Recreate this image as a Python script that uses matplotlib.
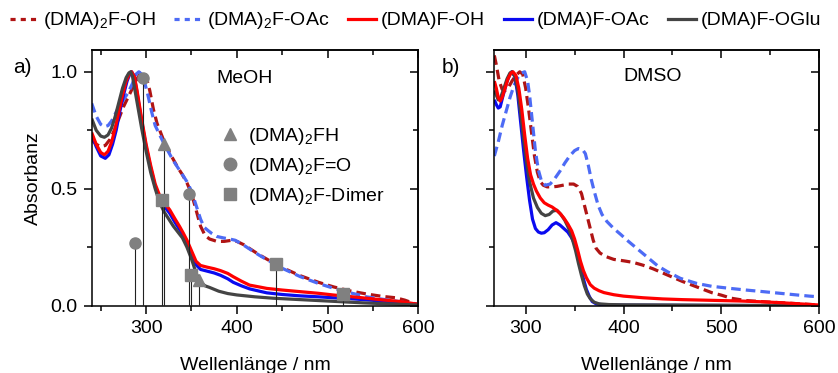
import matplotlib
matplotlib.use("Agg")
import matplotlib.pyplot as plt
from matplotlib.lines import Line2D
from matplotlib.ticker import MultipleLocator

plt.rcParams['font.family'] = ['Liberation Sans', 'DejaVu Sans']
plt.rcParams['font.size'] = 14
plt.rcParams['mathtext.fontset'] = 'custom'
plt.rcParams['mathtext.rm'] = 'Liberation Sans'
plt.rcParams['mathtext.it'] = 'Liberation Sans:italic'

# ---------------- data ----------------
labels = ['(DMA)$_\\mathregular{2}$F-OH', '(DMA)$_\\mathregular{2}$F-OAc',
          '(DMA)F-OH', '(DMA)F-OAc', '(DMA)F-OGlu']
colors = ['#B01414', '#4D6BF5', '#FF0000', '#0A0AF0', '#444444']
styles = ['--', '--', '-', '-', '-']

# MeOH panel
meoh_d2oh_x = [240, 245, 250, 255, 260, 265, 270, 275, 280, 285, 290, 294, 297, 300, 304, 308, 312, 316, 320,
               325, 330, 335, 340, 345, 350, 355, 360, 365, 370, 378, 386, 395, 400, 408, 415, 425, 434, 450,
               470, 490, 507, 525, 543, 560, 575, 585, 595, 600]
meoh_d2oh_y = [0.71, 0.69, 0.68, 0.685, 0.71, 0.75, 0.80, 0.85, 0.89, 0.93, 0.97, 0.995, 1.0, 0.98, 0.92, 0.84,
               0.78, 0.74, 0.70, 0.66, 0.625, 0.59, 0.56, 0.525, 0.48, 0.41, 0.34, 0.30, 0.285, 0.275, 0.275,
               0.28, 0.275, 0.26, 0.242, 0.217, 0.197, 0.163, 0.128, 0.10, 0.08, 0.063, 0.05, 0.04, 0.034,
               0.024, 0.01, 0.005]

meoh_d2oac_x = [240, 245, 250, 254, 258, 262, 266, 270, 275, 280, 285, 289, 292, 295, 298, 302, 306, 310, 315,
                320, 325, 330, 335, 340, 345, 350, 355, 360, 364, 368, 372, 378, 385, 392, 398, 405, 415, 425,
                434, 450, 470, 490, 507, 525, 543, 560, 580, 590, 600]
meoh_d2oac_y = [0.865, 0.81, 0.775, 0.765, 0.77, 0.79, 0.82, 0.85, 0.88, 0.91, 0.95, 0.99, 1.0, 0.99, 0.96,
                0.90, 0.83, 0.77, 0.73, 0.69, 0.655, 0.62, 0.59, 0.56, 0.53, 0.49, 0.43, 0.37, 0.335, 0.322,
                0.31, 0.296, 0.29, 0.285, 0.28, 0.265, 0.24, 0.215, 0.195, 0.16, 0.124, 0.095, 0.074, 0.055,
                0.038, 0.028, 0.017, 0.01, 0.003]

meoh_doh_x = [240, 245, 250, 254, 258, 262, 266, 270, 274, 278, 282, 284, 287, 290, 295, 300, 305, 310, 315, 320,
              326, 332, 337, 341, 345, 350, 355, 360, 367, 375, 382, 390, 396, 405, 414, 425, 433, 450, 470,
              490, 506, 525, 543, 560, 580, 600]
meoh_doh_y = [0.74, 0.69, 0.655, 0.645, 0.66, 0.70, 0.76, 0.83, 0.90, 0.96, 0.995, 1.0, 0.98, 0.92, 0.80, 0.69,
              0.60, 0.52, 0.47, 0.44, 0.41, 0.37, 0.338, 0.31, 0.28, 0.235, 0.19, 0.172, 0.165, 0.158, 0.15,
              0.138, 0.124, 0.105, 0.088, 0.08, 0.074, 0.067, 0.06, 0.053, 0.046, 0.039, 0.032, 0.025, 0.018,
              0.006]

meoh_doac_x = [240, 245, 250, 255, 259, 263, 267, 271, 275, 279, 282, 284, 287, 290, 295, 300, 305, 310, 315,
               320, 326, 332, 337, 341, 345, 350, 355, 360, 367, 375, 382, 390, 396, 405, 414, 425, 433, 450,
               470, 490, 506, 525, 543, 560, 580, 600]
meoh_doac_y = [0.73, 0.68, 0.64, 0.63, 0.645, 0.69, 0.75, 0.83, 0.90, 0.96, 0.99, 1.0, 0.98, 0.91, 0.79, 0.68,
               0.59, 0.51, 0.455, 0.425, 0.395, 0.355, 0.325, 0.30, 0.27, 0.22, 0.175, 0.155, 0.148, 0.14,
               0.13, 0.115, 0.10, 0.085, 0.072, 0.062, 0.055, 0.048, 0.042, 0.038, 0.034, 0.03, 0.025, 0.02,
               0.012, 0.005]

meoh_doglu_x = [240, 245, 250, 254, 258, 262, 266, 270, 274, 278, 281, 283, 285, 290, 295, 300, 305, 310, 315,
                320, 325, 330, 335, 340, 345, 350, 355, 360, 365, 370, 375, 380, 390, 400, 420, 440, 460, 480,
                500, 520, 540, 560, 580, 600]
meoh_doglu_y = [0.80, 0.75, 0.725, 0.72, 0.73, 0.76, 0.81, 0.87, 0.93, 0.975, 0.995, 1.0, 0.98, 0.87, 0.76,
                0.66, 0.57, 0.50, 0.44, 0.40, 0.37, 0.34, 0.315, 0.29, 0.25, 0.20, 0.14, 0.10, 0.085, 0.078,
                0.07, 0.062, 0.052, 0.046, 0.038, 0.032, 0.028, 0.024, 0.02, 0.016, 0.012, 0.009, 0.006, 0.003]

# DMSO panel
dmso_d2oh_x = [268, 270, 273, 276, 279, 282, 286, 290, 294, 297, 300, 303, 306, 309, 312, 315, 318, 322, 327,
               332, 338, 344, 349, 353, 357, 360, 363, 366, 369, 372, 376, 382, 390, 400, 410, 420, 430, 440,
               450, 460, 475, 490, 500, 510, 525, 543, 560, 580, 600]
dmso_d2oh_y = [1.07, 1.03, 0.96, 0.925, 0.92, 0.93, 0.96, 0.985, 1.0, 0.99, 0.93, 0.84, 0.74, 0.64, 0.57,
               0.53, 0.515, 0.508, 0.508, 0.51, 0.515, 0.52, 0.52, 0.51, 0.48, 0.43, 0.38, 0.33, 0.28, 0.245,
               0.225, 0.21, 0.198, 0.192, 0.185, 0.173, 0.158, 0.14, 0.122, 0.104, 0.08, 0.056, 0.045, 0.032,
               0.022, 0.017, 0.013, 0.008, 0.003]

dmso_d2oac_x = [268, 272, 276, 280, 284, 288, 292, 296, 299, 302, 304, 307, 310, 313, 316, 320, 325, 330, 335,
                340, 345, 350, 354, 358, 361, 364, 367, 370, 374, 378, 383, 390, 397, 405, 415, 425, 435, 445,
                458, 475, 490, 509, 525, 543, 560, 577, 590, 600]
dmso_d2oac_y = [0.64, 0.70, 0.77, 0.83, 0.89, 0.94, 0.975, 0.995, 1.0, 0.96, 0.90, 0.78, 0.66, 0.58, 0.535,
                0.515, 0.52, 0.545, 0.575, 0.61, 0.64, 0.663, 0.672, 0.668, 0.65, 0.60, 0.54, 0.49, 0.43, 0.39,
                0.36, 0.33, 0.305, 0.275, 0.24, 0.205, 0.17, 0.145, 0.117, 0.095, 0.083, 0.074, 0.067, 0.06,
                0.053, 0.046, 0.041, 0.038]

dmso_doh_x = [268, 270, 272, 274, 276, 279, 282, 285, 287, 290, 293, 296, 299, 302, 305, 308, 311, 315, 319,
              323, 327, 331, 335, 339, 343, 347, 350, 353, 356, 359, 362, 366, 370, 375, 380, 390, 400, 420,
              440, 460, 480, 500, 520, 540, 560, 580, 600]
dmso_doh_y = [0.96, 0.93, 0.89, 0.875, 0.89, 0.93, 0.97, 0.995, 1.0, 0.985, 0.93, 0.84, 0.73, 0.63, 0.56,
              0.52, 0.49, 0.46, 0.44, 0.43, 0.422, 0.41, 0.395, 0.375, 0.35, 0.32, 0.285, 0.24, 0.19, 0.15,
              0.12, 0.09, 0.075, 0.064, 0.056, 0.047, 0.041, 0.034, 0.029, 0.026, 0.024, 0.022, 0.02, 0.017,
              0.013, 0.008, 0.003]

dmso_doac_x = [268, 270, 272, 274, 277, 281, 284, 286, 289, 292, 295, 298, 301, 304, 307, 310, 313, 316, 319,
               323, 327, 331, 335, 339, 343, 347, 350, 353, 356, 359, 362, 365, 368, 372, 380, 400, 600]
dmso_doac_y = [0.88, 0.86, 0.845, 0.85, 0.90, 0.96, 0.99, 1.0, 0.98, 0.90, 0.78, 0.66, 0.55, 0.45, 0.37, 0.33,
               0.315, 0.31, 0.312, 0.325, 0.345, 0.355, 0.345, 0.33, 0.315, 0.29, 0.265, 0.22, 0.17, 0.115,
               0.07, 0.04, 0.018, 0.008, 0.003, 0.002, 0.0]

dmso_doglu_x = [268, 270, 272, 274, 277, 281, 284, 286, 289, 292, 295, 298, 301, 304, 308, 312, 316, 320, 324,
                328, 332, 336, 340, 344, 348, 351, 354, 357, 360, 363, 366, 370, 375, 385, 400, 450, 500, 550,
                600]
dmso_doglu_y = [0.92, 0.90, 0.88, 0.885, 0.92, 0.97, 0.995, 1.0, 0.98, 0.92, 0.82, 0.71, 0.61, 0.53, 0.46,
                0.42, 0.395, 0.385, 0.39, 0.405, 0.408, 0.39, 0.365, 0.33, 0.28, 0.235, 0.18, 0.13, 0.085,
                0.05, 0.03, 0.015, 0.008, 0.005, 0.004, 0.003, 0.002, 0.001, 0.0]

# stick spectra (MeOH)
fh_x = [320, 358]
fh_y = [0.69, 0.11]
fo_x = [288, 297, 347]
fo_y = [0.27, 0.975, 0.476]
dimer_x = [317, 350, 443, 517]
dimer_y = [0.45, 0.13, 0.178, 0.05]
stick_labels = ['(DMA)$_\\mathregular{2}$FH', '(DMA)$_\\mathregular{2}$F=O', '(DMA)$_\\mathregular{2}$F-Dimer']

meoh = [(meoh_d2oh_x, meoh_d2oh_y), (meoh_d2oac_x, meoh_d2oac_y), (meoh_doh_x, meoh_doh_y),
        (meoh_doac_x, meoh_doac_y), (meoh_doglu_x, meoh_doglu_y)]
dmso = [(dmso_d2oh_x, dmso_d2oh_y), (dmso_d2oac_x, dmso_d2oac_y), (dmso_doh_x, dmso_doh_y),
        (dmso_doac_x, dmso_doac_y), (dmso_doglu_x, dmso_doglu_y)]

# ---------------- figure ----------------
fig = plt.figure(figsize=(8.38, 3.73), dpi=100)
axL = fig.add_axes([0.1094, 0.1804, 0.3898, 0.6855])
axR = fig.add_axes([0.5899, 0.1804, 0.3878, 0.6855])

LW = 2.3
order_meoh = [0, 1, 3, 2, 4]
order_dmso = [0, 1, 3, 4, 2]


def draw(ax, data, order):
    for i in order:
        x, y = data[i]
        ln, = ax.plot(x, y, color=colors[i], lw=LW, ls=styles[i], solid_capstyle='butt')
        if styles[i] == '--':
            ln.set_dashes((3.0, 1.6))


draw(axL, meoh, order_meoh)
draw(axR, dmso, order_dmso)

gray = '#808080'
for xs, ys, mk in [(fh_x, fh_y, '^'), (fo_x, fo_y, 'o'), (dimer_x, dimer_y, 's')]:
    axL.vlines(xs, 0, ys, colors='#222222', lw=0.8, zorder=5)
    axL.plot(xs, ys, ls='none', marker=mk, ms=8, color=gray, zorder=6)

mk_handles = [Line2D([], [], ls='none', marker=m, ms=9, color=gray) for m in ['^', 'o', 's']]
axL.legend(mk_handles, stick_labels, loc='upper left', bbox_to_anchor=(0.37, 0.74), frameon=False,
           handlelength=0.8, handletextpad=0.5, labelspacing=0.45, borderpad=0, fontsize=14)

for ax, xmin in [(axL, 240), (axR, 268)]:
    ax.set_xlim(xmin, 600)
    ax.set_ylim(0, 1.093)
    ax.xaxis.set_major_locator(MultipleLocator(100))
    ax.xaxis.set_minor_locator(MultipleLocator(50))
    ax.yaxis.set_major_locator(MultipleLocator(0.5))
    ax.yaxis.set_minor_locator(MultipleLocator(0.25))
    ax.tick_params(which='major', direction='out', length=6, width=1.1, pad=4)
    ax.tick_params(which='minor', direction='out', length=3.5, width=1.1)
    for s in ax.spines.values():
        s.set_linewidth(1.1)
    ax.set_xlabel('Wellenlänge / nm', labelpad=15)
    sx = ax.secondary_xaxis('top')
    sx.xaxis.set_major_locator(MultipleLocator(100))
    sx.xaxis.set_minor_locator(MultipleLocator(50))
    sx.tick_params(which='major', direction='in', length=6, width=1.1, labeltop=False)
    sx.tick_params(which='minor', direction='in', length=3.5, width=1.1)
    sy = ax.secondary_yaxis('right')
    sy.yaxis.set_major_locator(MultipleLocator(0.5))
    sy.yaxis.set_minor_locator(MultipleLocator(0.25))
    sy.tick_params(which='major', direction='in', length=6, width=1.1, labelright=False)
    sy.tick_params(which='minor', direction='in', length=3.5, width=1.1)
    for s in list(sx.spines.values()) + list(sy.spines.values()):
        s.set_linewidth(1.1)

axL.yaxis.set_major_formatter(plt.FormatStrFormatter('%.1f'))
axR.tick_params(axis='y', labelleft=False)
axL.set_ylabel('Absorbanz', labelpad=6)

axL.text(409, 0.973, 'MeOH', ha='center', va='center')
axR.text(430, 0.979, 'DMSO', ha='center', va='center')
fig.text(0.027, 0.82, 'a)', ha='center', va='center', fontsize=15)
fig.text(0.538, 0.82, 'b)', ha='center', va='center', fontsize=15)

handles = []
for i in range(5):
    h = Line2D([], [], color=colors[i], lw=LW, ls=styles[i])
    if styles[i] == '--':
        h.set_dashes((1.6, 1.6))
    handles.append(h)
fig.legend(handles, labels, loc='center left', bbox_to_anchor=(0.0, 0.944), ncol=5, frameon=False,
           handlelength=1.45, handletextpad=0.25, columnspacing=0.95, borderpad=0.3, borderaxespad=0.2,
           fontsize=14)

fig.savefig('out.png', dpi=100)
